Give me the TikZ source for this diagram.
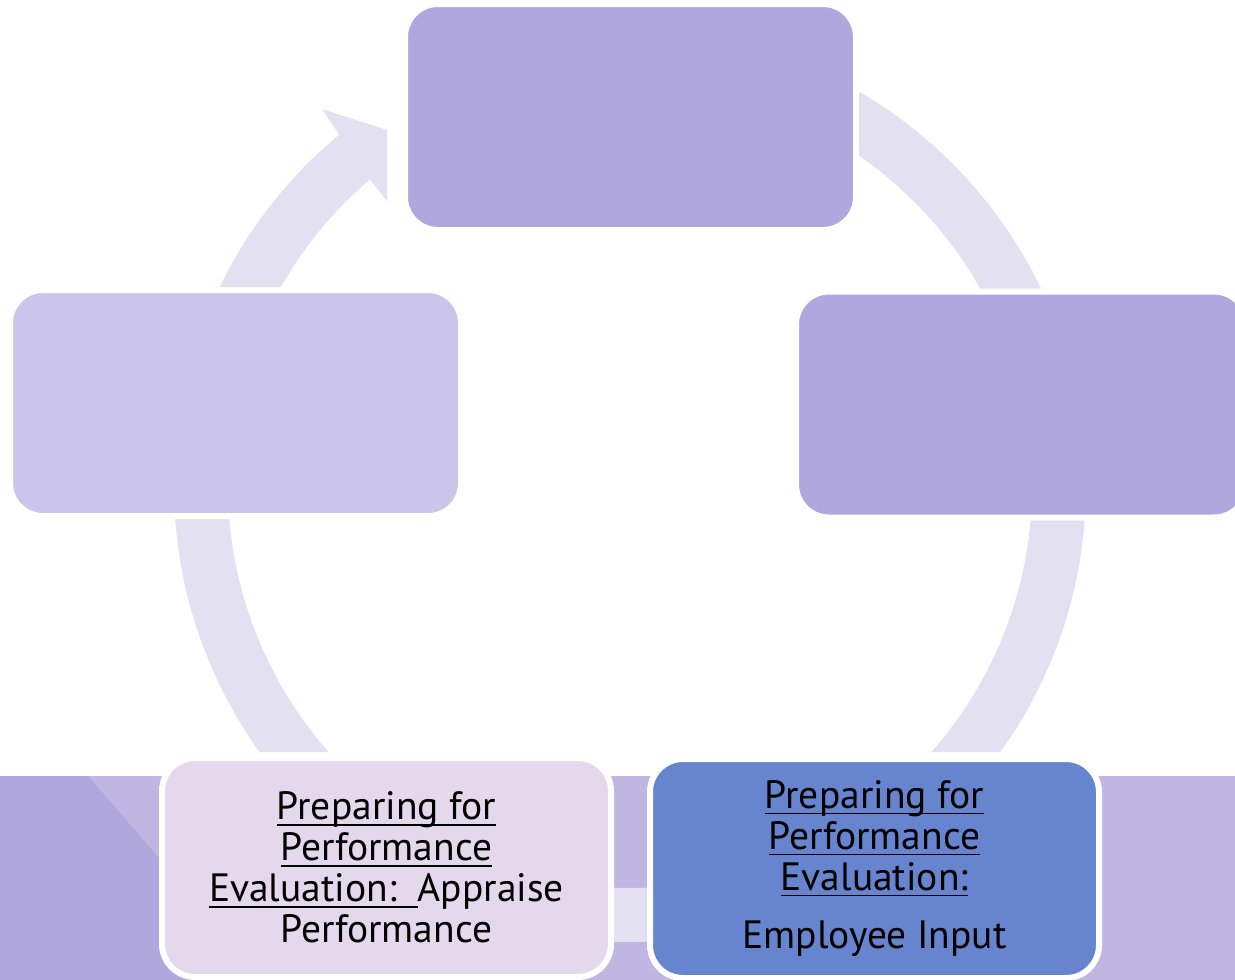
\documentclass[tikz,border=0pt]{standalone}
\usepackage{fontspec}
\setmainfont{PT Sans}
\definecolor{boxA}{HTML}{B1A7DF}
\definecolor{boxL}{HTML}{CBC4EB}
\definecolor{ringc}{HTML}{E3E0F2}
\definecolor{bandc}{HTML}{BFB6E2}
\definecolor{bandd}{HTML}{B0A7DE}
\definecolor{boxP}{HTML}{E4D9EC}
\definecolor{boxB}{HTML}{6785CF}
\newcommand{\ulx}[1]{\setbox0\hbox{#1}\rlap{\rule[-6pt]{\wd0}{1.8pt}}\box0}
\tikzset{
  cbox/.style={rounded corners=33pt, inner sep=0pt, draw=white, line width=6pt,
    minimum width=451pt, minimum height=226pt},
  ring/.style={fill=ringc},
  btext/.style={font=\fontsize{39.5}{41}\selectfont, align=center, text=black}
}
\begin{document}
\begin{tikzpicture}[x=1pt,y=-1pt]
\useasboundingbox (0,0) rectangle (1235,980);
\clip (0,0) rectangle (1235,980);
\coordinate (C) at (630,486);
% bottom band
\fill[bandc] (0,776) rectangle (1235,980);
\fill[bandd] (0,776) -- (88,776) -- (265,980) -- (0,980) -- cycle;
% ring segments
\fill[ring] ([shift={(C)}]205.73:456) arc[start angle=205.73, end angle=230.4, radius=456]
  -- (322,109) -- (387,130) -- (387,201) -- ([shift={(C)}]229.7:402)
  arc[start angle=229.7, end angle=209.51, radius=402] -- cycle;
\fill[ring] ([shift={(C)}]-60:456) arc[start angle=-60, end angle=-25.6, radius=456]
  -- ([shift={(C)}]-29.34:402) arc[start angle=-29.34, end angle=-55.45, radius=402] -- cycle;
\fill[ring] ([shift={(C)}]4.28:456) arc[start angle=4.28, end angle=35.69, radius=456]
  -- ([shift={(C)}]41.43:402) arc[start angle=41.43, end angle=4.85, radius=402] -- cycle;
\fill[ring] ([shift={(C)}]60:456) arc[start angle=60, end angle=120, radius=456]
  -- ([shift={(C)}]120:402) arc[start angle=120, end angle=60, radius=402] -- cycle;
\fill[ring] ([shift={(C)}]175.85:456) arc[start angle=175.85, end angle=144.31, radius=456]
  -- ([shift={(C)}]138.57:402) arc[start angle=138.57, end angle=175.29, radius=402] -- cycle;
% boxes
\node[cbox, fill=boxA] (top) at (630.5,117) {};
\node[cbox, fill=boxA] (right) at (1021.5,404.5) {};
\node[cbox, fill=boxL] (left) at (235.5,403) {};
\node[cbox, fill=boxP, minimum width=449pt, minimum height=219pt, btext] (appraise) at (386.5,867.5)
  {\ulx{Preparing for}\\\ulx{Performance}\\\ulx{Evaluation:\ \ }Appraise\\Performance};
\node[cbox, fill=boxB, minimum width=449pt, minimum height=219pt, btext] (input) at (874.5,868.5)
  {\ulx{Preparing for}\\\ulx{Performance}\\\ulx{Evaluation:}\\[17pt]Employee Input};
\end{tikzpicture}
\end{document}
